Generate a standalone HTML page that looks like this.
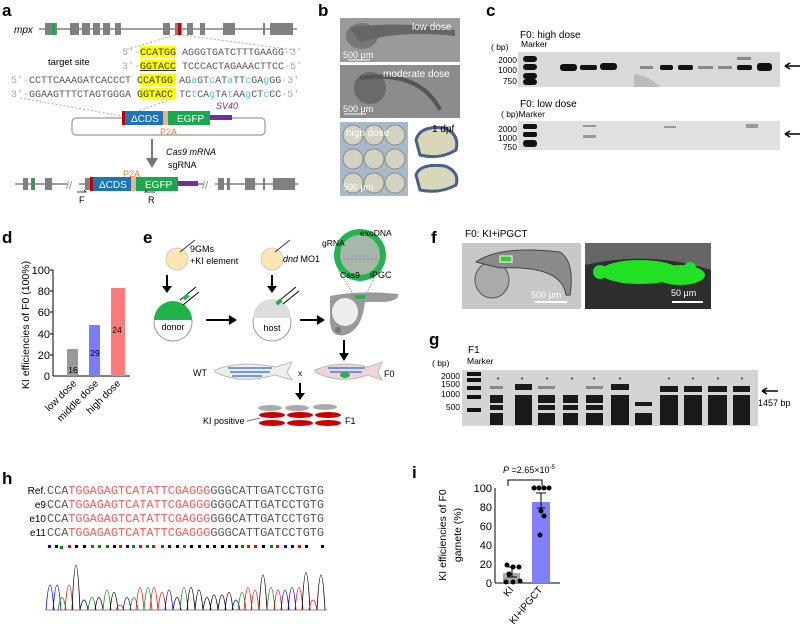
<!DOCTYPE html>
<html><head><meta charset="utf-8"><style>
html,body{margin:0;padding:0;background:#fff;}
svg{display:block;font-family:"Liberation Sans",Arial,sans-serif;}
.m{font-family:"Liberation Mono",monospace;}
.L{font-weight:bold;font-size:17px;}
</style></head><body>
<svg width="800" height="638" viewBox="0 0 800 638" xmlns="http://www.w3.org/2000/svg">
<!-- a -->
<text x="2" y="16" class="L">a</text>
<text x="14" y="33" font-size="10" font-style="italic">mpx</text>
<line x1="39" y1="29" x2="297" y2="29" stroke="#808080" stroke-width="1.5"/>
<g fill="#808080">
<rect x="45" y="23" width="12" height="12"/><rect x="70" y="23" width="9" height="12"/><rect x="82" y="23" width="8" height="12"/><rect x="93" y="23" width="7" height="12"/><rect x="103" y="23" width="7" height="12"/><rect x="115" y="23" width="6" height="12"/><rect x="163" y="23" width="7" height="12"/><rect x="175" y="23" width="7" height="12"/><rect x="187" y="23" width="6" height="12"/><rect x="200" y="23" width="5" height="12"/><rect x="223" y="23" width="12" height="12"/><rect x="263" y="23" width="2" height="12"/><rect x="270" y="23" width="23" height="12"/>
</g>
<rect x="52" y="23" width="3" height="12" fill="#1aa84f"/><rect x="178" y="23" width="3" height="12" fill="#c00000"/>
<line x1="175" y1="35" x2="125" y2="50" stroke="#aaa" stroke-dasharray="2,2"/>
<line x1="182" y1="35" x2="295" y2="50" stroke="#aaa" stroke-dasharray="2,2"/>
<line x1="20" y1="98" x2="122" y2="116" stroke="#aaa" stroke-dasharray="2,2"/>
<line x1="175" y1="98" x2="124" y2="116" stroke="#aaa" stroke-dasharray="2,2"/>
<text x="48" y="65" font-size="9.5">target site</text>
<g fill="#ffff00"><rect x="140" y="46" width="36" height="11"/><rect x="140" y="60" width="36" height="11"/><rect x="140" y="74" width="36" height="11"/><rect x="140" y="88" width="36" height="11"/></g>
<g class="m" font-size="10" fill="#555">
<text x="122" y="55"><tspan fill="#aaa">5′-</tspan><tspan fill="#333">CCATGG</tspan> AGGGTGATCTTTGAAGG<tspan fill="#aaa">-3′</tspan></text>
<text x="122" y="69"><tspan fill="#aaa">3′-</tspan><tspan fill="#333" text-decoration="underline">GGTACC</tspan> TCCCACTAGAAACTTCC<tspan fill="#aaa">-5′</tspan></text>
<text x="11" y="83"><tspan fill="#aaa">5′-</tspan>CCTTCAAAGATCACCCT <tspan fill="#333">CCATGG</tspan> AG<tspan fill="#4fc3f7">a</tspan>GT<tspan fill="#4fc3f7">c</tspan>AT<tspan fill="#4fc3f7">a</tspan>TT<tspan fill="#4fc3f7">c</tspan>GA<tspan fill="#4fc3f7">g</tspan>GG<tspan fill="#aaa">-3′</tspan></text>
<text x="11" y="97"><tspan fill="#aaa">3′-</tspan>GGAAGTTTCTAGTGGGA <tspan fill="#333">GGTACC</tspan> TC<tspan fill="#4fc3f7">t</tspan>CA<tspan fill="#4fc3f7">g</tspan>TA<tspan fill="#4fc3f7">t</tspan>AA<tspan fill="#4fc3f7">g</tspan>CT<tspan fill="#4fc3f7">c</tspan>CC<tspan fill="#aaa">-5′</tspan></text>
</g>
<rect x="72" y="118" width="193" height="17" rx="4" fill="none" stroke="#999" stroke-width="1.2"/>
<rect x="122" y="111" width="3" height="14" fill="#c00000"/>
<rect x="125" y="111" width="38" height="14" fill="#1b75bb"/>
<rect x="163" y="111" width="5" height="14" fill="#f4b183"/>
<rect x="168" y="111" width="42" height="14" fill="#1aa84f"/>
<rect x="210" y="115" width="22" height="5" fill="#7030a0"/>
<text x="131" y="122" font-size="10" fill="#fff">ΔCDS</text>
<text x="177" y="122" font-size="10" fill="#fff">EGFP</text>
<text x="216" y="109" font-size="9" font-style="italic" fill="#7030a0">SV40</text>
<text x="160" y="135" font-size="9" fill="#e07b39">P2A</text>
<line x1="152" y1="139" x2="152" y2="160" stroke="#777" stroke-width="2"/>
<polygon points="146,158 158,158 152,168" fill="#777"/>
<text x="166" y="155" font-size="9" font-style="italic">Cas9 mRNA</text>
<text x="168" y="168" font-size="9">sgRNA</text>
<line x1="15" y1="184" x2="298" y2="184" stroke="#808080" stroke-width="1.5"/>
<g fill="#808080"><rect x="23" y="178" width="5" height="12"/><rect x="31" y="178" width="4" height="12"/><rect x="45" y="178" width="7" height="12"/><rect x="85" y="178" width="5" height="12"/><rect x="218" y="178" width="6" height="12"/><rect x="227" y="178" width="3" height="12"/><rect x="245" y="178" width="10" height="12"/><rect x="263" y="178" width="2" height="12"/><rect x="273" y="178" width="22" height="12"/></g>
<rect x="32" y="178" width="2" height="12" fill="#1aa84f"/>
<rect x="67" y="178" width="12" height="12" fill="#fff"/><rect x="203" y="178" width="12" height="12" fill="#fff"/>
<text x="66" y="189" font-size="11" fill="#808080">//</text><text x="202" y="189" font-size="11" fill="#808080">//</text>
<rect x="90" y="177" width="3" height="14" fill="#c00000"/>
<rect x="93" y="177" width="38" height="14" fill="#1b75bb"/>
<rect x="131" y="177" width="5" height="14" fill="#f4b183"/>
<rect x="136" y="177" width="42" height="14" fill="#1aa84f"/>
<rect x="178" y="181" width="20" height="5" fill="#7030a0"/>
<text x="99" y="188" font-size="10" fill="#fff">ΔCDS</text>
<text x="145" y="188" font-size="10" fill="#fff">EGFP</text>
<text x="123" y="177" font-size="9" fill="#e07b39">P2A</text>
<path d="M77 192 H86 l-2 -2" stroke="#000" fill="none" stroke-width="0.8"/><text x="79" y="203" font-size="9">F</text>
<path d="M155 192 H145 l2 -2" stroke="#000" fill="none" stroke-width="0.8"/><text x="148" y="203" font-size="9">R</text>

<!-- b -->
<text x="318" y="16" class="L">b</text>
<rect x="340" y="18" width="120" height="44" fill="#9a9a9a"/>
<ellipse cx="362" cy="36" rx="16" ry="13" fill="#777"/><path d="M350 28 Q400 20 455 30 L455 36 Q400 30 360 42Z" fill="#666"/>
<text x="412" y="30" font-size="10" fill="#fff">low dose</text>
<text x="343" y="58" font-size="9" fill="#fff">500 μm</text><line x1="348" y1="60" x2="370" y2="60" stroke="#fff"/>
<rect x="340" y="65" width="120" height="53" fill="#8c8c8c"/>
<ellipse cx="370" cy="88" rx="16" ry="16" fill="#6a6a6a"/><path d="M360 78 Q420 70 440 110" stroke="#555" stroke-width="4" fill="none"/>
<text x="383" y="77" font-size="10" fill="#fff">moderate dose</text>
<text x="343" y="112" font-size="9" fill="#fff">500 μm</text><line x1="344" y1="114" x2="366" y2="114" stroke="#fff"/>
<rect x="340" y="122" width="68" height="74" fill="#a8b8cc"/>
<g fill="#d4d2c0" stroke="#8a8a80"><circle cx="353" cy="135" r="10"/><circle cx="374" cy="135" r="10"/><circle cx="395" cy="135" r="10"/><circle cx="353" cy="159" r="10"/><circle cx="374" cy="159" r="10"/><circle cx="395" cy="159" r="10"/><circle cx="353" cy="183" r="10"/><circle cx="374" cy="183" r="10"/><circle cx="395" cy="183" r="10"/></g>
<text x="346" y="136" font-size="10" fill="#fff">high dose</text>
<text x="343" y="190" font-size="9" fill="#fff">500 μm</text>
<rect x="413" y="122" width="47" height="74" fill="#fff"/>
<path d="M416 140 Q420 125 445 128 Q460 135 456 150 Q440 160 420 155Z" fill="#d8d8b8" stroke="#4a5f90" stroke-width="3"/>
<path d="M416 175 Q420 163 445 166 Q460 172 456 185 Q440 194 420 190Z" fill="#d8d8b8" stroke="#4a5f90" stroke-width="3"/>
<text x="432" y="132" font-size="10">1 dpf</text>

<!-- c -->
<text x="486" y="16" class="L">c</text>
<text x="520" y="38" font-size="10">F0: high dose</text>
<text x="491" y="50" font-size="8.5">( bp)</text><text x="521" y="47" font-size="8.5">Marker</text>
<rect x="518" y="52" width="262" height="35" fill="#d9d9d9"/>
<g font-size="8.5" text-anchor="end"><text x="517" y="63">2000</text><text x="517" y="73">1000</text><text x="517" y="84">750</text>
<text x="517" y="132">2000</text><text x="517" y="141">1000</text><text x="517" y="150">750</text></g>
<g fill="#111"><rect x="523" y="56" width="14" height="6" rx="3"/><rect x="523" y="64" width="14" height="6" rx="3"/><rect x="523" y="73" width="14" height="6" rx="3"/><rect x="523" y="79" width="14" height="6" rx="3"/>
<rect x="560" y="64" width="17" height="7" rx="3"/><rect x="580" y="65" width="17" height="5" rx="2"/><rect x="600" y="63" width="17" height="7" rx="3"/>
<rect x="660" y="65" width="13" height="5" rx="2"/><rect x="678" y="65" width="15" height="5" rx="2"/><rect x="737" y="65" width="15" height="5" rx="2"/><rect x="757" y="63" width="15" height="8" rx="3"/></g>
<g fill="#888"><rect x="640" y="66" width="13" height="3"/><rect x="698" y="66" width="15" height="3"/><rect x="718" y="66" width="14" height="3"/><rect x="737" y="57" width="14" height="3"/></g>
<path d="M634 74 Q650 76 660 87 L634 87Z" fill="#bbb"/>
<path d="M785 66 H800 M785 66 l5 -3 M785 66 l5 3" stroke="#000" stroke-width="1.5" fill="none"/>
<text x="520" y="107" font-size="10">F0: low dose</text>
<text x="501" y="117" font-size="8.5">( bp)Marker</text>
<rect x="518" y="121" width="262" height="29" fill="#e0e0e0"/>
<g fill="#111"><rect x="523" y="124" width="14" height="5" rx="2"/><rect x="523" y="132" width="14" height="5" rx="2"/><rect x="523" y="140" width="14" height="7" rx="3"/></g>
<g fill="#999"><rect x="583" y="135" width="13" height="3"/><rect x="664" y="126" width="12" height="2"/><rect x="746" y="124" width="12" height="4"/><rect x="583" y="125" width="13" height="2"/></g>
<path d="M785 134 H800 M785 134 l5 -3 M785 134 l5 3" stroke="#000" stroke-width="1.5" fill="none"/>

<!-- d -->
<text x="2" y="243" class="L">d</text>
<text transform="translate(29,325) rotate(-90)" font-size="10.5" text-anchor="middle">KI efficiencies of F0 (100%)</text>
<line x1="53" y1="270" x2="53" y2="376" stroke="#000"/><line x1="53" y1="376" x2="130" y2="376" stroke="#000"/>
<g font-size="11" text-anchor="end"><text x="50" y="274">100</text><text x="50" y="295">80</text><text x="50" y="316">60</text><text x="50" y="338">40</text><text x="50" y="359">20</text><text x="50" y="380">0</text></g>
<g stroke="#000"><line x1="50" y1="270" x2="53" y2="270"/><line x1="50" y1="291" x2="53" y2="291"/><line x1="50" y1="312" x2="53" y2="312"/><line x1="50" y1="334" x2="53" y2="334"/><line x1="50" y1="355" x2="53" y2="355"/></g>
<rect x="67" y="349" width="11" height="27" fill="#999"/><rect x="89" y="325" width="11" height="51" fill="#7b7bff"/><rect x="111" y="288" width="14" height="88" fill="#ff7b7b"/>
<g font-size="8.5" text-anchor="middle"><text x="73" y="373">16</text><text x="95" y="356">29</text><text x="117" y="333">24</text></g>
<g font-size="10" text-anchor="end"><text transform="translate(77,384) rotate(-45)">low dose</text><text transform="translate(99,384) rotate(-45)">middle dose</text><text transform="translate(121,384) rotate(-45)">high dose</text></g>

<!-- e -->
<text x="143" y="243" class="L">e</text>
<circle cx="177" cy="259" r="11" fill="#fbe7b2" stroke="#ccc"/><line x1="180" y1="252" x2="195" y2="240" stroke="#333"/>
<text x="190" y="252" font-size="9">9GMs</text><text x="190" y="264" font-size="9">+KI element</text>
<circle cx="272" cy="259" r="11" fill="#fbe7b2" stroke="#ccc"/><line x1="275" y1="252" x2="290" y2="240" stroke="#333"/>
<text x="283" y="262" font-size="9"><tspan font-style="italic">dnd</tspan> MO1</text>
<g stroke="#000" stroke-width="2"><line x1="167" y1="275" x2="167" y2="288"/><line x1="272" y1="275" x2="272" y2="288"/><line x1="206" y1="320" x2="230" y2="320"/><line x1="300" y1="320" x2="318" y2="320"/><line x1="344" y1="340" x2="344" y2="355"/><line x1="300" y1="383" x2="300" y2="395"/></g>
<g fill="#000"><polygon points="162,286 172,286 167,293"/><polygon points="267,286 277,286 272,293"/><polygon points="229,315 229,325 237,320"/><polygon points="317,315 317,325 325,320"/><polygon points="339,353 349,353 344,361"/><polygon points="295,393 305,393 300,400"/></g>
<circle cx="173" cy="322" r="19" fill="#fff" stroke="#999"/><path d="M154 320 A19 19 0 0 1 192 320Z" fill="#1fb34a"/>
<text x="173" y="330" font-size="9" text-anchor="middle">donor</text>
<line x1="180" y1="300" x2="196" y2="287" stroke="#000"/><line x1="183" y1="305" x2="199" y2="292" stroke="#000"/><rect x="183" y="295" width="6" height="4" fill="#1fb34a" transform="rotate(-40 186 297)"/>
<circle cx="272" cy="322" r="19" fill="#fff" stroke="#999"/><path d="M253 318 A19 19 0 0 1 291 318Z" fill="#ddd"/>
<text x="272" y="331" font-size="9" text-anchor="middle">host</text>
<line x1="280" y1="300" x2="296" y2="287" stroke="#000"/><line x1="283" y1="304" x2="299" y2="291" stroke="#000"/><rect x="276" y="300" width="6" height="4" fill="#1fb34a" transform="rotate(-40 279 302)"/>
<path d="M330 296 Q360 290 398 294 Q400 300 385 302 L365 302 Q362 330 345 335 Q330 338 330 320Z" fill="#999"/>
<ellipse cx="345" cy="312" rx="13" ry="14" fill="#eee"/><circle cx="338" cy="330" r="3" fill="#777"/>
<rect x="355" y="295" width="10" height="4" fill="#1fb34a"/>
<line x1="355" y1="297" x2="338" y2="270" stroke="#888" stroke-dasharray="1,1"/><line x1="365" y1="297" x2="378" y2="270" stroke="#888" stroke-dasharray="1,1"/>
<circle cx="360" cy="255" r="26" fill="#22b450"/><circle cx="360" cy="255" r="20" fill="#a8b8a8"/>
<line x1="343" y1="259" x2="378" y2="259" stroke="#c88" stroke-width="2" stroke-dasharray="2,2"/><line x1="348" y1="256" x2="372" y2="256" stroke="#6ad"/>
<text x="360" y="236" font-size="8.5">exoDNA</text><text x="322" y="246" font-size="8.5">gRNA</text><text x="340" y="278" font-size="8.5">Cas9</text><text x="370" y="278" font-size="9">iPGC</text>
<text x="193" y="376" font-size="9">WT</text>
<path d="M215 370 Q240 360 275 367 L292 362 L287 372 L292 380 L275 375 Q240 385 215 372Z" fill="#eee" stroke="#bbb"/>
<g stroke="#4a7fd4" stroke-width="1.5"><line x1="228" y1="368" x2="272" y2="368"/><line x1="230" y1="372" x2="270" y2="372"/><line x1="232" y1="376" x2="262" y2="376"/></g>
<text x="298" y="376" font-size="8.5">x</text>
<path d="M315 370 Q340 360 368 367 L382 362 L378 372 L382 380 L368 375 Q340 385 315 372Z" fill="#f0d4d8" stroke="#bbb"/>
<g stroke="#4a7fd4" stroke-width="1.5"><line x1="328" y1="368" x2="365" y2="368"/><line x1="330" y1="372" x2="362" y2="372"/></g>
<ellipse cx="345" cy="375" rx="5" ry="3" fill="#1fb34a"/>
<text x="384" y="377" font-size="9">F0</text>
<g fill="#aaa"><ellipse cx="270" cy="408" rx="12" ry="3"/><ellipse cx="297" cy="408" rx="12" ry="3"/><ellipse cx="325" cy="407" rx="12" ry="3"/></g>
<g fill="#c00"><ellipse cx="272" cy="415" rx="13" ry="3"/><ellipse cx="300" cy="415" rx="13" ry="3"/><ellipse cx="328" cy="415" rx="13" ry="3"/><ellipse cx="272" cy="423" rx="13" ry="3"/><ellipse cx="300" cy="423" rx="13" ry="3"/><ellipse cx="328" cy="423" rx="13" ry="3"/></g>
<text x="203" y="424" font-size="9">KI positive</text><line x1="247" y1="421" x2="260" y2="418" stroke="#777"/>
<text x="345" y="424" font-size="9">F1</text>

<!-- f -->
<text x="431" y="243" class="L">f</text>
<text x="465" y="237" font-size="10">F0: KI+iPGCT</text>
<rect x="462" y="243" width="119" height="66" fill="#c8c8c8"/>
<ellipse cx="492" cy="280" rx="17" ry="18" fill="#aaa" stroke="#555"/>
<path d="M476 262 Q500 245 560 252 Q575 262 570 295 L566 295 Q562 265 500 268Z" fill="#8a8a8a" stroke="#444"/>
<rect x="500" y="256" width="12" height="6" fill="#3c3" stroke="#fff"/>
<text x="531" y="298" font-size="9" fill="#fff">500 μm</text><line x1="535" y1="302" x2="567" y2="302" stroke="#fff" stroke-width="2"/>
<rect x="585" y="243" width="126" height="66" fill="#2e2e2e"/>
<path d="M585 243 H711 V270 Q650 250 585 265Z" fill="#666"/>
<g fill="#22e022"><ellipse cx="640" cy="272" rx="40" ry="12"/><ellipse cx="680" cy="275" rx="25" ry="10"/><circle cx="600" cy="272" r="7"/><circle cx="690" cy="268" r="6"/></g>
<text x="671" y="296" font-size="9" fill="#fff">50 μm</text><line x1="672" y1="302" x2="703" y2="302" stroke="#fff" stroke-width="2"/>

<!-- g -->
<text x="429" y="345" class="L">g</text>
<text x="468" y="353" font-size="10">F1</text>
<text x="432" y="366" font-size="8.5">( bp)</text><text x="467" y="364" font-size="8.5">Marker</text>
<rect x="462" y="370" width="296" height="56" fill="#d4d4d4"/>
<g font-size="8.5" text-anchor="end"><text x="460" y="379">2000</text><text x="460" y="387">1500</text><text x="460" y="397">1000</text><text x="460" y="410">500</text></g>
<g fill="#111"><rect x="467" y="372" width="14" height="4"/><rect x="467" y="378" width="14" height="4"/><rect x="467" y="386" width="14" height="4"/><rect x="467" y="395" width="14" height="4"/><rect x="467" y="408" width="14" height="4"/></g>
<g fill="#1a1a1a">
<rect x="490" y="395" width="13" height="8"/><rect x="490" y="405" width="13" height="5"/><rect x="490" y="413" width="13" height="12"/>
<rect x="515" y="384" width="17" height="6"/><rect x="515" y="395" width="17" height="30"/>
<rect x="538" y="395" width="17" height="8"/><rect x="538" y="405" width="17" height="5"/><rect x="538" y="413" width="17" height="12"/>
<rect x="563" y="395" width="15" height="8"/><rect x="563" y="405" width="15" height="5"/><rect x="563" y="413" width="15" height="12"/>
<rect x="586" y="395" width="17" height="8"/><rect x="586" y="405" width="17" height="5"/><rect x="586" y="413" width="17" height="12"/>
<rect x="611" y="384" width="18" height="6"/><rect x="611" y="395" width="18" height="30"/>
<rect x="635" y="402" width="17" height="4"/><rect x="635" y="413" width="17" height="12"/>
<rect x="660" y="386" width="18" height="6"/><rect x="660" y="395" width="18" height="30"/>
<rect x="684" y="386" width="18" height="6"/><rect x="684" y="395" width="18" height="30"/>
<rect x="708" y="386" width="19" height="6"/><rect x="708" y="395" width="19" height="30"/>
<rect x="733" y="386" width="17" height="6"/><rect x="733" y="395" width="17" height="30"/></g>
<g fill="#888"><rect x="490" y="386" width="13" height="3"/><rect x="538" y="386" width="17" height="3"/><rect x="586" y="386" width="17" height="3"/></g>
<g font-size="7" text-anchor="middle"><text x="498" y="382">*</text><text x="522" y="382">*</text><text x="547" y="382">*</text><text x="572" y="382">*</text><text x="594" y="382">*</text><text x="620" y="382">*</text><text x="669" y="382">*</text><text x="693" y="382">*</text><text x="718" y="382">*</text><text x="742" y="382">*</text></g>
<path d="M762 391 H778 M762 391 l5 -3 M762 391 l5 3" stroke="#000" stroke-width="1.5" fill="none"/>
<text x="758" y="406" font-size="9">1457 bp</text>

<!-- h -->
<text x="2" y="484" class="L">h</text>
<g font-size="10" text-anchor="end"><text x="46" y="494">Ref.</text><text x="46" y="508">e9</text><text x="46" y="522">e10</text><text x="46" y="536">e11</text></g>
<g class="m" font-size="12" fill="#555">
<text x="47" y="494" textLength="277" lengthAdjust="spacingAndGlyphs">CCA<tspan fill="#f55">TGGAGAGTCATATTCGAGGG</tspan>GGGCATTGATCCTGTG</text>
<text x="47" y="508" textLength="277" lengthAdjust="spacingAndGlyphs">CCA<tspan fill="#f55">TGGAGAGTCATATTCGAGGG</tspan>GGGCATTGATCCTGTG</text>
<text x="47" y="522" textLength="277" lengthAdjust="spacingAndGlyphs">CCA<tspan fill="#f55">TGGAGAGTCATATTCGAGGG</tspan>GGGCATTGATCCTGTG</text>
<text x="47" y="536" textLength="277" lengthAdjust="spacingAndGlyphs">CCA<tspan fill="#f55">TGGAGAGTCATATTCGAGGG</tspan>GGGCATTGATCCTGTG</text>
</g>
<g>
<rect x="48" y="545" width="3" height="3" fill="#00f"/><rect x="55" y="545" width="3" height="3" fill="#00f"/><rect x="60" y="546" width="3" height="3" fill="#080"/><rect x="68" y="545" width="3" height="3" fill="#f00"/><rect x="75" y="545" width="3" height="3" fill="#000"/><rect x="83" y="545" width="3" height="3" fill="#000"/><rect x="91" y="545" width="3" height="3" fill="#080"/><rect x="98" y="545" width="3" height="3" fill="#080"/><rect x="106" y="545" width="3" height="3" fill="#080"/><rect x="113" y="545" width="3" height="3" fill="#000"/><rect x="119" y="545" width="3" height="3" fill="#f00"/><rect x="126" y="545" width="3" height="3" fill="#00f"/><rect x="132" y="545" width="3" height="3" fill="#080"/><rect x="139" y="545" width="3" height="3" fill="#f00"/><rect x="146" y="545" width="3" height="3" fill="#080"/><rect x="152" y="545" width="3" height="3" fill="#f00"/><rect x="161" y="545" width="3" height="3" fill="#f00"/><rect x="168" y="545" width="3" height="3" fill="#00f"/><rect x="176" y="545" width="3" height="3" fill="#000"/><rect x="183" y="545" width="3" height="3" fill="#080"/><rect x="190" y="545" width="3" height="3" fill="#000"/><rect x="198" y="545" width="3" height="3" fill="#000"/><rect x="206" y="545" width="3" height="3" fill="#000"/><rect x="213" y="545" width="3" height="3" fill="#000"/><rect x="221" y="545" width="3" height="3" fill="#000"/><rect x="228" y="545" width="3" height="3" fill="#000"/><rect x="235" y="545" width="3" height="3" fill="#00f"/><rect x="241" y="545" width="3" height="3" fill="#080"/><rect x="247" y="545" width="3" height="3" fill="#f00"/><rect x="254" y="545" width="3" height="3" fill="#f00"/><rect x="262" y="545" width="3" height="3" fill="#000"/><rect x="270" y="545" width="3" height="3" fill="#080"/><rect x="276" y="545" width="3" height="3" fill="#f00"/><rect x="284" y="545" width="3" height="3" fill="#00f"/><rect x="291" y="545" width="3" height="3" fill="#00f"/><rect x="298" y="545" width="3" height="3" fill="#f00"/><rect x="305" y="545" width="3" height="3" fill="#000"/><rect x="321" y="545" width="3" height="3" fill="#000"/>
</g>
<line x1="46" y1="610" x2="327" y2="610" stroke="#888"/>
<g fill="none" stroke-width="0.8">
<path d="M46 610 Q50 560 54 610" stroke="#00f"/><path d="M53 610 Q57 560 61 610" stroke="#00f"/><path d="M58 610 Q62 585 66 610" stroke="#080"/><path d="M65 610 Q69 560 73 610" stroke="#f00"/><path d="M72 610 Q76 520 80 610" stroke="#000"/><path d="M80 610 Q84 590 88 610" stroke="#000"/><path d="M88 610 Q92 585 96 610" stroke="#080"/><path d="M95 610 Q99 585 103 610" stroke="#000"/><path d="M103 610 Q107 570 111 610" stroke="#080"/><path d="M110 610 Q114 575 118 610" stroke="#000"/><path d="M116 610 Q120 600 124 610" stroke="#f00"/><path d="M123 610 Q127 585 131 610" stroke="#00f"/><path d="M130 610 Q134 585 138 610" stroke="#080"/><path d="M136 610 Q140 565 144 610" stroke="#f00"/><path d="M144 610 Q148 565 152 610" stroke="#080"/><path d="M150 610 Q154 565 158 610" stroke="#f00"/><path d="M158 610 Q162 575 166 610" stroke="#f00"/><path d="M165 610 Q169 570 173 610" stroke="#00f"/><path d="M173 610 Q177 585 181 610" stroke="#000"/><path d="M180 610 Q184 565 188 610" stroke="#080"/><path d="M187 610 Q191 565 195 610" stroke="#000"/><path d="M195 610 Q199 570 203 610" stroke="#000"/><path d="M203 610 Q207 585 211 610" stroke="#000"/><path d="M210 610 Q214 580 218 610" stroke="#000"/><path d="M218 610 Q222 580 226 610" stroke="#000"/><path d="M225 610 Q229 575 233 610" stroke="#000"/><path d="M232 610 Q236 590 240 610" stroke="#00f"/><path d="M238 610 Q242 575 246 610" stroke="#080"/><path d="M244 610 Q248 565 252 610" stroke="#f00"/><path d="M251 610 Q255 570 259 610" stroke="#f00"/><path d="M259 610 Q263 540 267 610" stroke="#000"/><path d="M267 610 Q271 565 275 610" stroke="#080"/><path d="M274 610 Q278 570 282 610" stroke="#f00"/><path d="M281 610 Q285 570 289 610" stroke="#00f"/><path d="M288 610 Q292 565 296 610" stroke="#00f"/><path d="M295 610 Q299 565 303 610" stroke="#f00"/><path d="M302 610 Q306 535 310 610" stroke="#000"/><path d="M309 610 Q313 590 317 610" stroke="#f00"/><path d="M317 610 Q321 540 325 610" stroke="#000"/>
</g>

<!-- i -->
<text x="412" y="478" class="L">i</text>
<text x="503" y="473" font-size="9"><tspan font-style="italic">P</tspan> =2.65×10<tspan font-size="6" dy="-4">-5</tspan></text>
<path d="M508 486 V480 H542 V486" stroke="#000" fill="none"/>
<text transform="translate(446,535) rotate(-90)" font-size="10.5" text-anchor="middle">KI efficiencies of F0</text>
<text transform="translate(461,535) rotate(-90)" font-size="10.5" text-anchor="middle">gamete (%)</text>
<line x1="495" y1="488" x2="495" y2="583" stroke="#000"/><line x1="495" y1="583" x2="560" y2="583" stroke="#000"/>
<g font-size="11" text-anchor="end"><text x="492" y="492">100</text><text x="492" y="511">80</text><text x="492" y="530">60</text><text x="492" y="549">40</text><text x="492" y="568">20</text><text x="492" y="587">0</text></g>
<rect x="503" y="573" width="17" height="10" fill="#aaa"/><rect x="532" y="502" width="18" height="81" fill="#8080ff"/>
<path d="M507 577 H517 M512 577 V567 M508 567 H516 M536 493 H546 M541 493 V508 M537 508 H545" stroke="#000"/>
<g fill="#000"><circle cx="507" cy="565" r="2.5"/><circle cx="513" cy="567" r="2.5"/><circle cx="519" cy="567" r="2.5"/><circle cx="506" cy="582" r="2.5"/><circle cx="513" cy="582" r="2.5"/><circle cx="520" cy="581" r="2.5"/><circle cx="509" cy="574" r="2.5"/>
<circle cx="534" cy="488" r="2.5"/><circle cx="539" cy="488" r="2.5"/><circle cx="544" cy="488" r="2.5"/><circle cx="549" cy="488" r="2.5"/><circle cx="541" cy="511" r="2.5"/><circle cx="544" cy="516" r="2.5"/><circle cx="540" cy="535" r="2.5"/></g>
<g font-size="10" text-anchor="end"><text transform="translate(514,590) rotate(-50)">KI</text><text transform="translate(543,590) rotate(-50)">KI+iPGCT</text></g>
</svg>
</body></html>
